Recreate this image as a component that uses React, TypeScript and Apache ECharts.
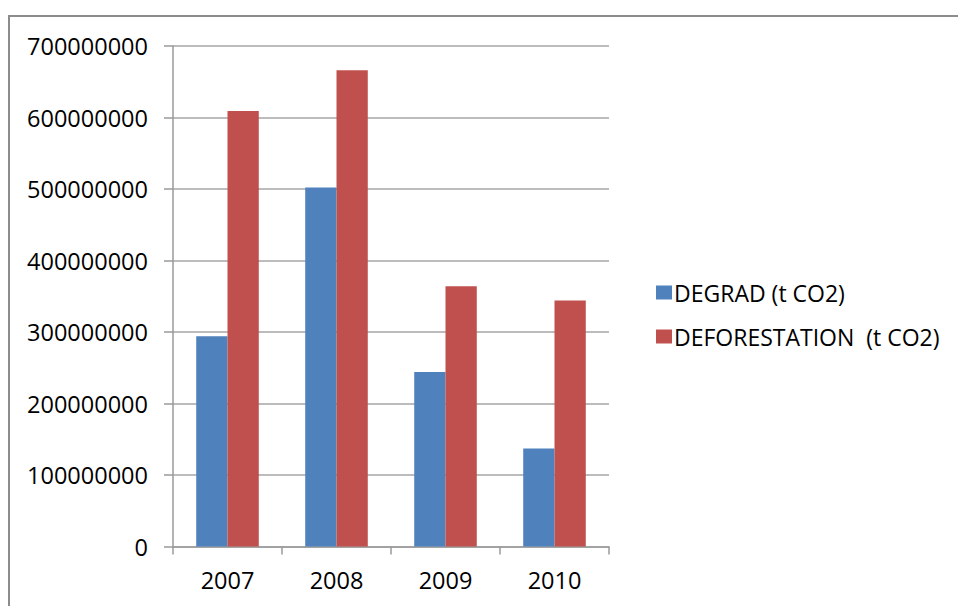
import React, { useEffect, useRef } from "react";
import * as echarts from "echarts";

const years = ["2007", "2008", "2009", "2010"];
const degrad = [294000000, 502000000, 244000000, 137000000];
const deforestation = [609000000, 666000000, 364000000, 344000000];
const seriesNames = ["DEGRAD (t CO2)", "DEFORESTATION  (t CO2)"];

const FONT = "'Open Sans', 'Liberation Sans', sans-serif";

export default function App() {
  const ref = useRef<HTMLDivElement>(null);

  useEffect(() => {
    if (!ref.current) return;
    const chart = echarts.init(ref.current, null, { renderer: "svg" });
    chart.setOption({
      animation: false,
      backgroundColor: "#ffffff",
      textStyle: { fontFamily: FONT },
      graphic: [
        {
          type: "rect",
          shape: { x: 9, y: 16, width: 1000, height: 700 },
          style: { fill: "none", stroke: "#8c8c8c", lineWidth: 2 },
          silent: true,
          z: 0,
        },
      ],
      grid: { left: 173, top: 46, right: 349, bottom: 59.5 },
      legend: {
        orient: "vertical",
        left: 651,
        top: 276,
        itemWidth: 16,
        itemHeight: 14,
        itemGap: 21,
        icon: "rect",
        textStyle: { fontFamily: FONT, fontSize: 23, color: "#000", padding: [0, 0, 0, -3] },
        data: seriesNames,
      },
      xAxis: {
        type: "category",
        data: years,
        axisLine: { lineStyle: { color: "#9a9a9a", width: 1.5 } },
        axisTick: { show: true, length: 8, lineStyle: { color: "#9a9a9a", width: 1.5 } },
        axisLabel: { color: "#000", fontSize: 23.5, fontFamily: FONT, margin: 21 },
        splitLine: { show: false },
      },
      yAxis: {
        type: "value",
        min: 0,
        max: 700000000,
        interval: 100000000,
        axisLine: { show: true, lineStyle: { color: "#9a9a9a", width: 1.5 } },
        axisTick: { show: true, length: 9, lineStyle: { color: "#9a9a9a", width: 1.5 } },
        axisLabel: {
          color: "#000",
          fontSize: 23.5,
          fontFamily: FONT,
          margin: 25,
          formatter: (v: number) => String(v),
        },
        splitLine: { lineStyle: { color: "#a6a6a6", width: 1.5 } },
      },
      series: [
        {
          name: seriesNames[0],
          type: "bar",
          data: degrad,
          barGap: "0%",
          barCategoryGap: "42.6%",
          itemStyle: { color: "#4F81BD" },
        },
        {
          name: seriesNames[1],
          type: "bar",
          data: deforestation,
          barGap: "0%",
          barCategoryGap: "42.6%",
          itemStyle: { color: "#C0504D" },
        },
      ],
    });
    return () => chart.dispose();
  }, []);

  return (
    <div
      ref={ref}
      style={{ position: "fixed", left: 0, top: 0, width: 958, height: 606 }}
    />
  );
}
